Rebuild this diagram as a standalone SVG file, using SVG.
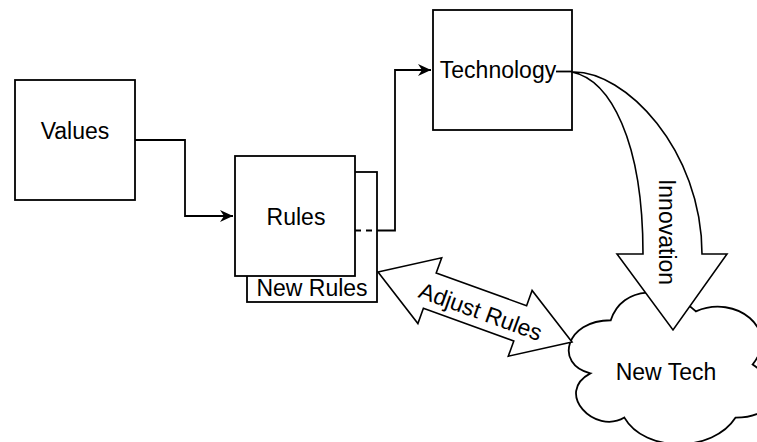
<svg xmlns="http://www.w3.org/2000/svg" width="757" height="442" viewBox="0 0 757 442">
<style>
.box{fill:#fff;stroke:#000;stroke-width:1.8}
.ln{fill:none;stroke:#000;stroke-width:1.8}
.fa{fill:#fff;stroke:#000;stroke-width:1.6;stroke-linejoin:miter}
.t{font-family:"Liberation Sans",Arial,Helvetica,sans-serif;font-size:23px;fill:#000;text-anchor:middle}
</style>
<defs>
<marker id="arr" markerUnits="userSpaceOnUse" markerWidth="14" markerHeight="13" refX="13" refY="6" orient="auto">
<path d="M0,0 L13,6 L0,12 L4,6 Z" fill="#000"/>
</marker>
</defs>
<rect width="757" height="442" fill="#fff"/>
<g id="values">
<rect class="box" x="15" y="80" width="120" height="120"/>
<text class="t" x="75" y="139">Values</text>
</g>
<g id="new-rules">
<rect class="box" x="247" y="172" width="130" height="130"/>
<text class="t" x="312" y="296">New Rules</text>
</g>
<g id="rules">
<rect class="box" x="235" y="156" width="120" height="120"/>
<text class="t" x="296" y="225">Rules</text>
</g>
<g id="technology">
<rect class="box" x="433" y="10" width="139" height="120"/>
<text class="t" x="498" y="78">Technology</text>
</g>
<g id="new-tech">
<path class="box" d="M610.75,320.25 C565.35,320.25 554,364.5 590.32,373.35 C554,392.82 594.86,435.3 624.37,417.6 C644.8,453 712.9,453 735.6,417.6 C781,417.6 781,382.2 752.6,364.5 C781,329.1 735.6,293.7 695.9,311.4 C667.5,284.85 622.1,284.85 610.75,320.25 Z"/>
<text class="t" x="666" y="380">New Tech</text>
</g>
<g id="connectors">
<path class="ln" d="M135,140 H185 V216 H233" marker-end="url(#arr)"/>
<path class="ln" d="M355,230.5 H377" stroke-dasharray="6 5"/>
<path class="ln" d="M377,230.5 H395 V70 H431" marker-end="url(#arr)"/>
<path class="ln" d="M556,71.5 H572" stroke-width="1.4"/>
<g id="innovation">
<path class="fa" d="M572,72 C625,70 702,150 702,254 L727,254 L673,330 L617,254 L643,254 C643,140 610,80 572,72 Z"/>
<text class="t" transform="translate(667,232) rotate(90)" dominant-baseline="central">Innovation</text>
</g>
<g id="adjust-rules">
<path class="fa" d="M378,272 L441.7,257.8 L436.2,273.1 L526.6,305.7 L532.1,290.4 L572,342 L508.3,356.2 L513.8,340.9 L423.4,308.3 L417.9,323.6 Z"/>
<text class="t" transform="translate(478,319) rotate(20)">Adjust Rules</text>
</g>
</g>
</svg>
